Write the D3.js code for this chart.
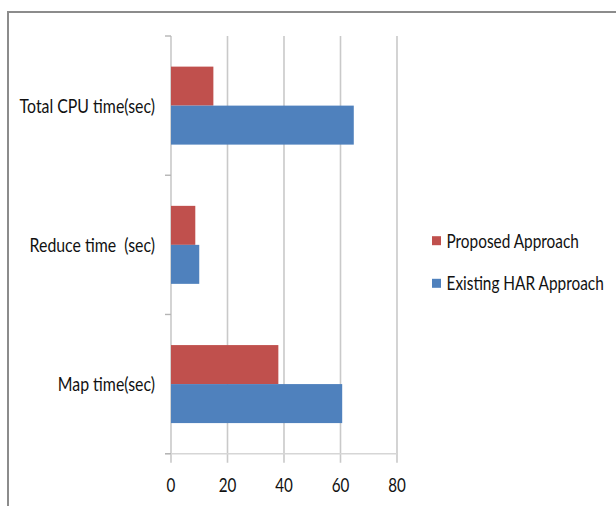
<!DOCTYPE html>
<html><head><meta charset="utf-8">
<script src="https://cdn.jsdelivr.net/npm/d3@7"></script>
<style>
html,body{margin:0;padding:0;background:#fff;}
svg{display:block;}
text{font-family:Lato,"Open Sans",sans-serif;fill:#111;white-space:pre;}
</style></head>
<body>
<script>
const categories = ["Total CPU time(sec)", "Reduce time  (sec)", "Map time(sec)"];
const seriesNames = ["Proposed Approach", "Existing HAR Approach"];
const proposed = [15, 8.6, 38];
const existing = [64.7, 10, 60.6];
const xTicks = [0, 20, 40, 60, 80];
const colors = ["#C0504D", "#4F81BD"];

const W = 616, H = 506;
const svg = d3.select("body").append("svg").attr("width", W).attr("height", H);

// outer frame
svg.append("rect").attr("x", 8).attr("y", 12).attr("width", 700).attr("height", 600)
  .attr("fill", "none").attr("stroke", "#8c8c8c").attr("stroke-width", 2);

const x = d3.scaleLinear().domain([0, 80]).range([171, 397]);
const y0 = d3.scaleBand().domain(categories).range([36, 453.7]).padding(0);
const y1 = d3.scaleBand().domain(seriesNames).range([0, y0.bandwidth()]).paddingInner(0).paddingOuter(0.785);

const fs = 19;
function label(g, px, py, str, anchor, sx) {
  return g.append("text")
    .attr("transform", `translate(${px},${py}) scale(${sx},1.05)`)
    .attr("text-anchor", anchor)
    .attr("dy", "0.35em")
    .style("font-size", fs + "px")
    .text(str);
}

const gridC = "#c9c9c9";
// gridlines
svg.append("g").selectAll("line").data(xTicks).join("line")
  .attr("x1", d => x(d)).attr("x2", d => x(d))
  .attr("y1", 36).attr("y2", 462.7)
  .attr("stroke", gridC).attr("stroke-width", 1.6);

// x axis line
svg.append("line").attr("x1", 165).attr("x2", x(80)).attr("y1", 453.7).attr("y2", 453.7)
  .attr("stroke", "#d6d6d6").attr("stroke-width", 1.6);

// y axis category boundary ticks
const bounds = categories.map(c => y0(c)).concat([y0.range()[1]]);
svg.append("g").selectAll("line").data(bounds).join("line")
  .attr("x1", 165).attr("x2", x(0)).attr("y1", d => d).attr("y2", d => d)
  .attr("stroke", "#b5b5b5").attr("stroke-width", 1.4);

// bars
const seriesData = [proposed, existing];
categories.forEach((c, i) => {
  seriesNames.forEach((s, j) => {
    svg.append("rect")
      .attr("x", x(0))
      .attr("y", y0(c) + y1(s))
      .attr("width", x(seriesData[j][i]) - x(0))
      .attr("height", y1.bandwidth())
      .attr("fill", colors[j]);
  });
});

// tick labels
const gl = svg.append("g");
xTicks.forEach(t => label(gl, x(t), 485, String(t), "middle", 0.8));

// category labels
categories.forEach(c => label(gl, 155, y0(c) + y0.bandwidth() / 2, c, "end", 0.835));

// legend
const legY = [240.7, 283.3];
seriesNames.forEach((s, j) => {
  svg.append("rect").attr("x", 432).attr("y", legY[j] - 4.5).attr("width", 9).attr("height", 9).attr("fill", colors[j]);
  label(gl, 446.5, legY[j], s, "start", 0.81);
});
</script>
</body></html>
